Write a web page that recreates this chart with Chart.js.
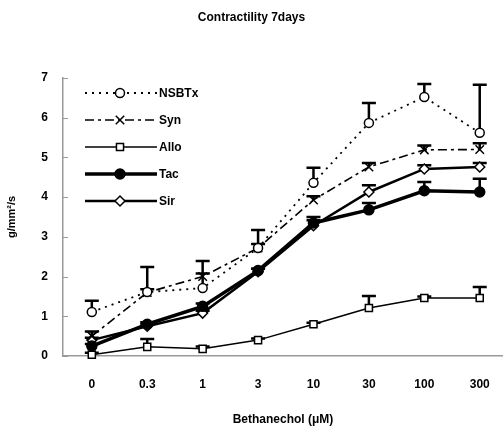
<!DOCTYPE html>
<html>
<head>
<meta charset="utf-8">
<script src="https://cdn.jsdelivr.net/npm/chart.js@4/dist/chart.umd.min.js"></script>
<style>
  html, body { margin: 0; padding: 0; background: #fff; }
  canvas { display: block; }
</style>
</head>
<body>
<canvas id="c" width="503" height="427"></canvas>
<script>
const doseLabels = ['0', '0.3', '1', '3', '10', '30', '100', '300'];
const yTicks = [0, 1, 2, 3, 4, 5, 6, 7];

const nsbtx = [1.11, 1.61, 1.71, 2.72, 4.36, 5.87, 6.52, 5.62];
const nsbtxErr = [1.39, 2.24, 2.39, 3.17, 4.74, 6.37, 6.85, 6.83];
const syn = [0.5, 1.6, 2.0, 2.72, 3.93, 4.76, 5.19, 5.2];
const synErr = [0.62, 1.68, 2.08, 2.82, 4.02, 4.86, 5.3, 5.36];
const allo = [0.03, 0.23, 0.18, 0.4, 0.8, 1.21, 1.46, 1.46];
const alloErr = [0.08, 0.43, 0.24, 0.44, 0.84, 1.51, 1.5, 1.74];
const tac = [0.25, 0.8, 1.25, 2.15, 3.35, 3.68, 4.16, 4.13];
const tacErr = [0.3, 0.85, 1.32, 2.2, 3.42, 3.85, 4.38, 4.46];
const sir = [0.4, 0.75, 1.08, 2.12, 3.28, 4.13, 4.71, 4.76];
const sirErr = [0.46, 0.8, 1.14, 2.2, 3.5, 4.3, 4.8, 4.86];

const FONT = 'Arial, "Liberation Sans", sans-serif';

function pts(vals) { return vals.map((v, i) => ({ x: i, y: v })); }

const series = [
  { label: 'NSBTx', data: nsbtx, err: nsbtxErr, width: 1.8, dash: [2, 5], style: 'circle', r: 4.5, fill: '#fff' },
  { label: 'Syn', data: syn, err: synErr, width: 1.6, dash: [9, 4, 3, 4], style: 'crossRot', r: 6, fill: '#fff' },
  { label: 'Allo', data: allo, err: alloErr, width: 1.5, dash: [], style: 'rect', r: 5, fill: '#fff' },
  { label: 'Tac', data: tac, err: tacErr, width: 3.5, dash: [], style: 'circle', r: 5, fill: '#000' },
  { label: 'Sir', data: sir, err: sirErr, width: 2.5, dash: [], style: 'rectRot', r: 5, fill: '#fff' }
];

// upward error bars (stem + cap), drawn under the markers
const errorBars = {
  id: 'errorBars',
  beforeDatasetsDraw(chart) {
    const { ctx, scales: { x, y } } = chart;
    ctx.save();
    ctx.strokeStyle = '#000';
    ctx.lineWidth = 2.5;
    series.forEach(s => {
      s.data.forEach((v, i) => {
        const px = x.getPixelForValue(i);
        const top = y.getPixelForValue(s.err[i]);
        ctx.beginPath();
        ctx.moveTo(px, y.getPixelForValue(v));
        ctx.lineTo(px, top);
        ctx.moveTo(px - 7, top);
        ctx.lineTo(px + 7, top);
        ctx.stroke();
      });
    });
    ctx.restore();
  },
  afterDraw(chart) {
    const { ctx, chartArea, scales: { y } } = chart;
    ctx.save();
    // small inward ticks on the y axis
    ctx.strokeStyle = '#999';
    ctx.lineWidth = 1;
    yTicks.forEach(t => {
      const py = Math.round(y.getPixelForValue(t)) + 0.5;
      ctx.beginPath();
      ctx.moveTo(chartArea.left, py);
      ctx.lineTo(chartArea.left + 5, py);
      ctx.stroke();
    });
    // legend
    ctx.font = 'bold 12px ' + FONT;
    ctx.textBaseline = 'middle';
    series.forEach((s, k) => {
      const ly = 93 + k * 27;
      ctx.strokeStyle = '#000';
      ctx.lineWidth = s.width;
      ctx.setLineDash(s.dash);
      ctx.beginPath();
      ctx.moveTo(85, ly);
      ctx.lineTo(157, ly);
      ctx.stroke();
      ctx.setLineDash([]);
      ctx.fillStyle = s.fill;
      ctx.lineWidth = 1.5;
      Chart.helpers.drawPoint(ctx, { pointStyle: s.style, radius: s.r, rotation: 0, borderWidth: 1.5 }, 120, ly);
      ctx.fillStyle = '#000';
      ctx.fillText(s.label, 159, ly + 1);
    });
    ctx.restore();
  }
};

new Chart(document.getElementById('c'), {
  type: 'line',
  data: {
    datasets: series.map(s => ({
      label: s.label,
      data: pts(s.data),
      borderColor: '#000',
      borderWidth: s.width,
      borderDash: s.dash,
      pointStyle: s.style,
      pointRadius: s.r,
      pointBackgroundColor: s.fill,
      pointBorderColor: '#000',
      pointBorderWidth: 1.5,
      tension: 0,
      fill: false,
      clip: false
    }))
  },
  options: {
    responsive: false,
    animation: false,
    events: [],
    layout: { autoPadding: false, padding: 0 },
    plugins: {
      legend: { display: false },
      tooltip: { enabled: false },
      title: {
        display: true,
        text: 'Contractility 7days',
        color: '#000',
        font: { family: FONT, size: 12, weight: 'bold' },
        padding: { top: 10, bottom: 53.6 }
      }
    },
    scales: {
      x: {
        type: 'linear',
        min: -0.52,
        max: 7.42,
        afterBuildTicks: s => { s.ticks = doseLabels.map((_, i) => ({ value: i })); },
        afterFit: s => { s.height = 71; s.paddingLeft = 0; s.paddingRight = 0; },
        ticks: {
          color: '#000',
          font: { family: FONT, size: 12, weight: 'bold' },
          padding: 21,
          maxRotation: 0,
          callback: v => doseLabels[v]
        },
        grid: { display: false, drawTicks: false },
        border: { color: '#999', width: 1.5 },
        title: {
          display: true,
          text: 'Bethanechol (μM)',
          color: '#000',
          font: { family: FONT, size: 12, weight: 'bold' },
          padding: { top: 6.5, bottom: 0 }
        }
      },
      y: {
        min: 0,
        max: 7,
        afterBuildTicks: s => { s.ticks = yTicks.map(v => ({ value: v })); },
        afterFit: s => { s.width = 63; },
        ticks: {
          color: '#000',
          font: { family: FONT, size: 12, weight: 'bold' },
          padding: 15
        },
        grid: { display: false, drawTicks: false },
        border: { color: '#999', width: 1.5 },
        title: {
          display: true,
          text: 'g/mm²/s',
          color: '#000',
          font: { family: FONT, size: 11, weight: 'bold' },
          padding: { top: 5.4, bottom: 0 }
        }
      }
    }
  },
  plugins: [errorBars]
});
</script>
</body>
</html>
